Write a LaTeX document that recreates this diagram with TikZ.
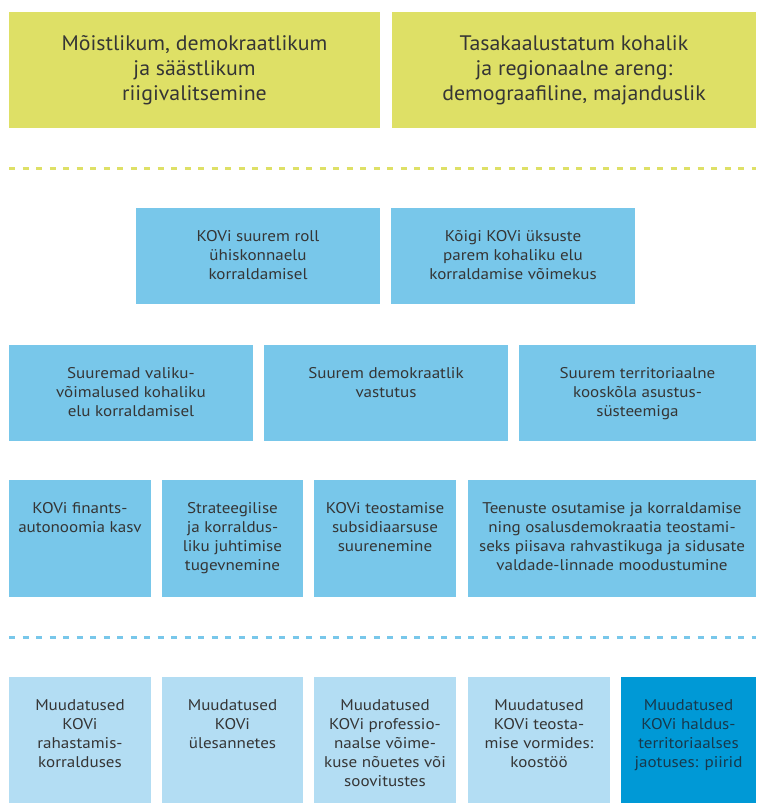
\documentclass[tikz,border=0pt]{standalone}
\usepackage{fontspec}
\setmainfont{PT Sans}
\newfontfamily\tilefont[FakeStretch=1.1]{PT Sans}
\newfontfamily\goalfont[FakeStretch=1.04]{PT Sans}
\usetikzlibrary{positioning}
\definecolor{goalyellow}{HTML}{DEE066}
\definecolor{aimblue}{HTML}{78C7EA}
\definecolor{paleblue}{HTML}{B3DDF3}
\definecolor{deepblue}{HTML}{0099D6}
\definecolor{inkgray}{HTML}{353535}
\definecolor{inknavy}{HTML}{17394D}
\tikzset{
  tile/.style={anchor=north west, inner sep=0pt, outer sep=0pt},
  goalbox/.style={tile, fill=goalyellow, minimum height=116pt},
  aimbox/.style={tile, fill=aimblue},
  changebox/.style={tile, fill=paleblue, minimum height=126pt},
  boxtext/.style={align=center, text=inkgray, inner sep=0pt, font=\tilefont\fontsize{15.5}{19}\selectfont},
  goaltext/.style={align=center, text=inkgray, inner sep=0pt, font=\goalfont\fontsize{21}{25}\selectfont},
  divider/.style={line width=3pt, dash pattern=on 6pt off 7.5pt}
}

\begin{document}
\begin{tikzpicture}[x=1pt, y=-1pt]
  \useasboundingbox (0,0) rectangle (756,803);
  % goals
  \node[goalbox, minimum width=371pt] (governance) at (9,12) {};
  \node[goalbox, minimum width=364pt] (regional) at (392,12) {};
  \node[goaltext] (governancetxt) at (governance.center) {Mõistlikum, demokraatlikum\\ja säästlikum\\riigivalitsemine};
  \node[goaltext] (regionaltxt) at (regional.center) {Tasakaalustatum kohalik\\ja regionaalne areng:\\demograafiline, majanduslik};
  \draw[divider, goalyellow] (9,168) -- (756,168);
  % outcomes
  \node[aimbox, minimum width=244pt, minimum height=96pt] (role) at (136,208) {};
  \node[aimbox, minimum width=244pt, minimum height=96pt] (capacity) at (391,208) {};
  \node[boxtext, below=22pt of role.north] (roletxt) {KOVi suurem roll\\ühiskonnaelu\\korraldamisel};
  \node[boxtext, below=22pt of capacity.north] (capacitytxt) {Kõigi KOVi üksuste\\parem kohaliku elu\\korraldamise võimekus};
  \node[aimbox, minimum width=244pt, minimum height=96pt] (choice) at (9,345) {};
  \node[aimbox, minimum width=244pt, minimum height=96pt] (account) at (264,345) {};
  \node[aimbox, minimum width=237pt, minimum height=96pt] (territory) at (519,345) {};
  \node[boxtext, below=22pt of choice.north] (choicetxt) {Suuremad valiku-\\võimalused kohaliku\\elu korraldamisel};
  \node[boxtext, below=22pt of account.north] (accounttxt) {Suurem demokraatlik\\vastutus};
  \node[boxtext, below=22pt of territory.north] (territorytxt) {Suurem territoriaalne\\kooskõla asustus-\\süsteemiga};
  \node[aimbox, minimum width=142pt, minimum height=117pt] (finance) at (9,480) {};
  \node[aimbox, minimum width=141pt, minimum height=117pt] (strategy) at (162,480) {};
  \node[aimbox, minimum width=142pt, minimum height=117pt] (subsidiarity) at (314,480) {};
  \node[aimbox, minimum width=288pt, minimum height=117pt] (services) at (468,480) {};
  \node[boxtext, below=22pt of finance.north] (financetxt) {KOVi finants-\\autonoomia kasv};
  \node[boxtext, below=22pt of strategy.north] (strategytxt) {Strateegilise\\ja korraldus-\\liku juhtimise\\tugevnemine};
  \node[boxtext, below=22pt of subsidiarity.north] (subsidiaritytxt) {KOVi teostamise\\subsidiaarsuse\\suurenemine};
  \node[boxtext, below=22pt of services.north] (servicestxt) {Teenuste osutamise ja korraldamise\\ning osalusdemokraatia teostami-\\seks piisava rahvastikuga ja sidusate\\valdade-linnade moodustumine};
  \draw[divider, aimblue] (9,637) -- (756,637);
  % changes
  \node[changebox, minimum width=142pt] (funding) at (9,677) {};
  \node[changebox, minimum width=141pt] (tasks) at (162,677) {};
  \node[changebox, minimum width=142pt] (skills) at (314,677) {};
  \node[changebox, minimum width=142pt] (forms) at (468,677) {};
  \node[changebox, minimum width=135pt, fill=deepblue] (borders) at (621,677) {};
  \node[boxtext, below=22pt of funding.north] (fundingtxt) {Muudatused\\KOVi\\rahastamis-\\korralduses};
  \node[boxtext, below=22pt of tasks.north] (taskstxt) {Muudatused\\KOVi\\ülesannetes};
  \node[boxtext, below=22pt of skills.north] (skillstxt) {Muudatused\\KOVi professio-\\naalse võime-\\kuse nõuetes või\\soovitustes};
  \node[boxtext, below=22pt of forms.north] (formstxt) {Muudatused\\KOVi teosta-\\mise vormides:\\koostöö};
  \node[boxtext, text=inknavy, below=22pt of borders.north] (borderstxt) {Muudatused\\KOVi haldus-\\territoriaalses\\jaotuses: piirid};
\end{tikzpicture}
\end{document}
